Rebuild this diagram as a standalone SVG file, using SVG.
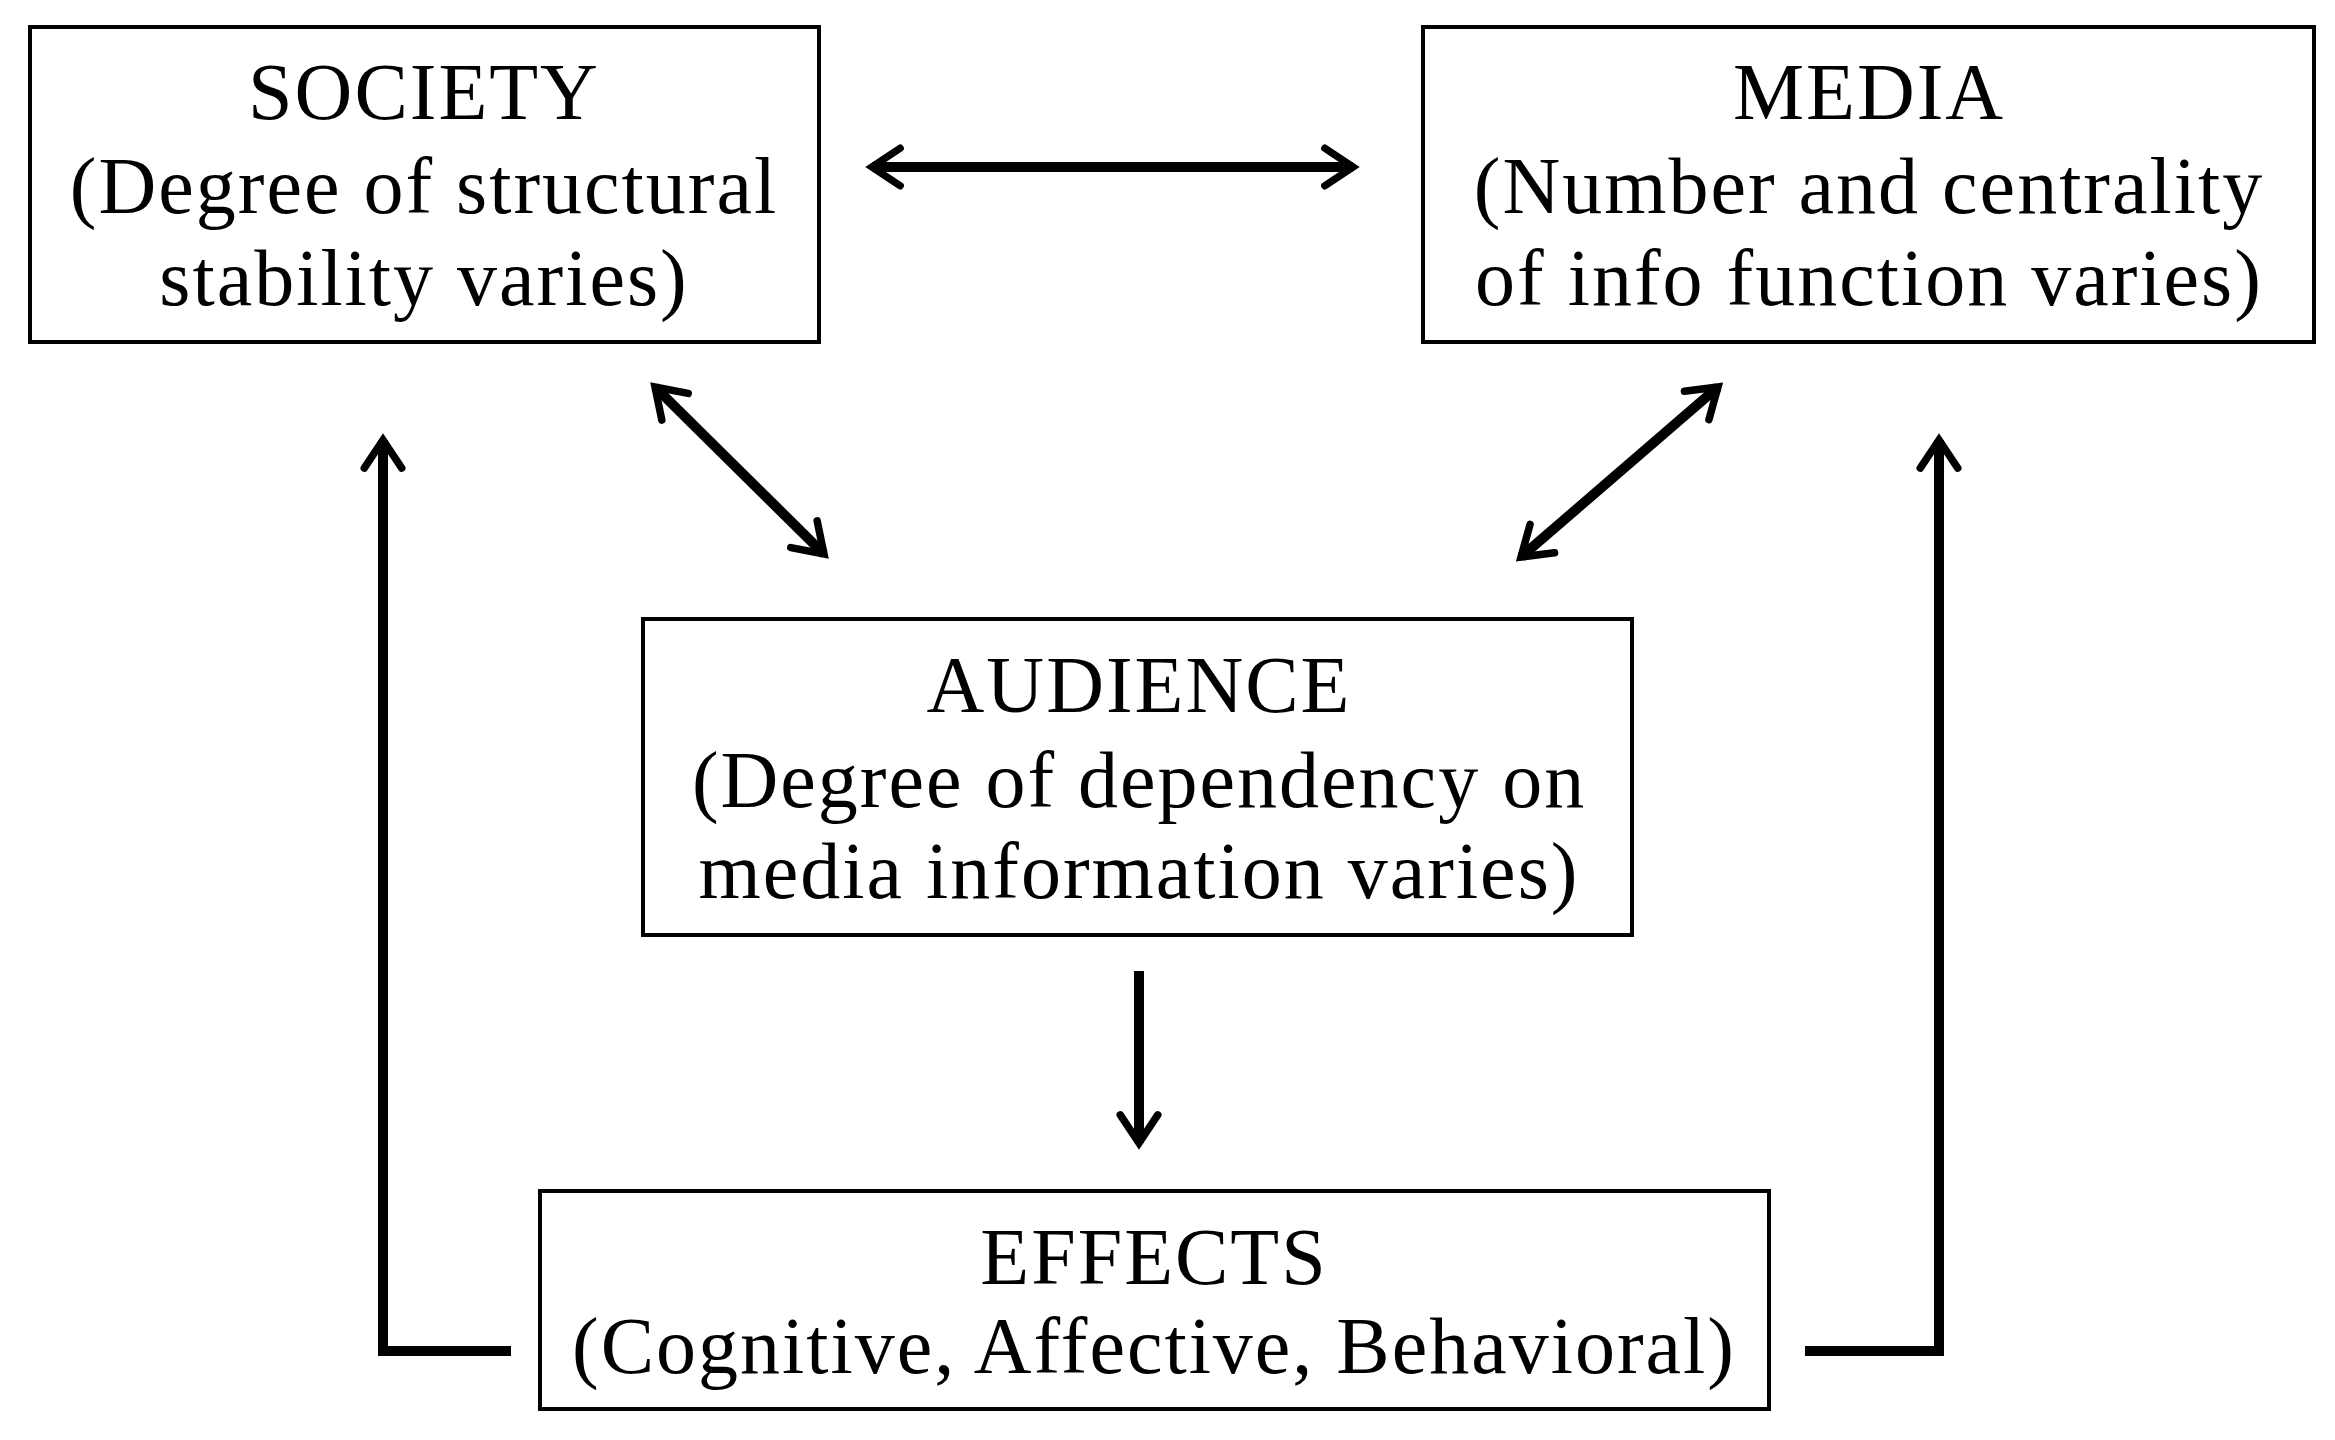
<svg xmlns="http://www.w3.org/2000/svg" width="2335" height="1440" viewBox="0 0 2335 1440">
<style>
.box{fill:#fff;stroke:#000;stroke-width:4}
text{font-family:"Liberation Serif","DejaVu Serif",serif;font-size:80px;letter-spacing:2px;text-anchor:middle;fill:#000}
.c{fill:none;stroke:#000;stroke-width:10;stroke-linejoin:miter}
</style>
<defs>
<marker id="a" viewBox="-12 -8 14 16" refX="0" refY="0" markerWidth="5" markerHeight="5" orient="auto-start-reverse" markerUnits="strokeWidth">
<polyline points="-9,-6 0,0 -9,6" fill="none" stroke="#000" stroke-width="2.4" stroke-linecap="round"/>
</marker>
</defs>
<rect width="2335" height="1440" fill="#fff"/>
<g id="society"><rect class="box" x="30" y="27" width="789" height="315"/>
<text x="424" y="119">SOCIETY</text><text x="424" y="213">(Degree of structural</text><text x="424" y="305">stability varies)</text></g>
<g id="media"><rect class="box" x="1423" y="27" width="891" height="315"/>
<text x="1869" y="119">MEDIA</text><text x="1869" y="213">(Number and centrality</text><text x="1869" y="305">of info function varies)</text></g>
<g id="audience"><rect class="box" x="643" y="619" width="989" height="316"/>
<text x="1139" y="712">AUDIENCE</text><text x="1139" y="807">(Degree of dependency on</text><text x="1139" y="898">media information varies)</text></g>
<g id="effects"><rect class="box" x="540" y="1191" width="1229" height="218"/>
<text x="1154" y="1284">EFFECTS</text><text x="1154" y="1373">(Cognitive, Affective, Behavioral)</text></g>
<g id="connectors">
<line class="c" x1="872" y1="167" x2="1353" y2="167" marker-start="url(#a)" marker-end="url(#a)"/>
<line class="c" x1="655" y1="387" x2="824" y2="554" marker-start="url(#a)" marker-end="url(#a)"/>
<line class="c" x1="1718" y1="387" x2="1521" y2="557" marker-start="url(#a)" marker-end="url(#a)"/>
<line class="c" x1="1139" y1="971" x2="1139" y2="1143" marker-end="url(#a)"/>
<polyline class="c" points="511,1351 383,1351 383,440" marker-end="url(#a)"/>
<polyline class="c" points="1805,1351 1939,1351 1939,440" marker-end="url(#a)"/>
</g>
</svg>
